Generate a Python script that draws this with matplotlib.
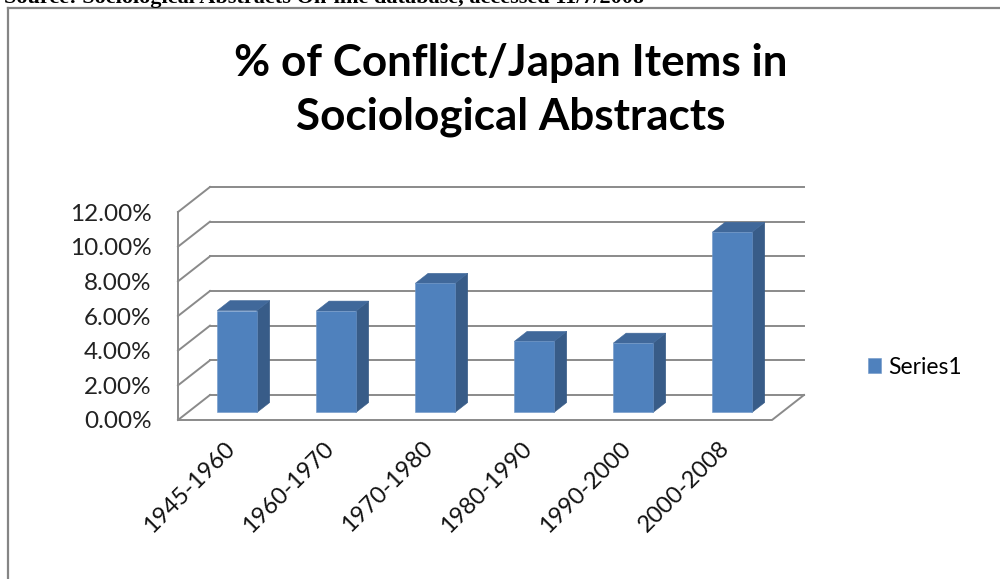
import numpy as np
import matplotlib
matplotlib.use("Agg")
import matplotlib.pyplot as plt
from matplotlib.patches import Polygon
from matplotlib.lines import Line2D
import matplotlib.transforms as mtransforms

# ---- data ----
categories = ["1945-1960", "1960-1970", "1970-1980", "1980-1990", "1990-2000", "2000-2008"]
values = [5.88, 5.85, 7.45, 4.10, 4.00, 10.40]   # percent
yticks = [0, 2, 4, 6, 8, 10, 12]
series_name = "Series1"
title = "% of Conflict/Japan Items in\nSociological Abstracts"
source_text = "Source: Sociological Abstracts On-line database, accessed 11/7/2008"

# ---- style / projection constants ----
FONT = ["Lato", "DejaVu Sans"]
DX = 0.323      # depth offset in category units (front -> back)
DY = 1.443      # depth offset in percent units
D0, D1 = 0.30, 0.70   # bar front/back depth
W = 0.40
GRID = "#8a8a8a"
FRONT = "#4F81BD"
SIDE = "#385C88"
TOP = "#40689A"

plt.rcParams["font.family"] = FONT

fig = plt.figure(figsize=(10, 5.79), dpi=100)
ax = fig.add_axes([0.178, (579 - 420) / 579, 0.626, 233 / 579])
x = np.arange(len(categories))
ymax = max(yticks)
ax.set_xlim(-0.5, len(categories) - 0.5 + DX)
ax.set_ylim(0, ymax + DY)
for s in ax.spines.values():
    s.set_visible(False)

xl, xr = -0.5, len(categories) - 0.5
# back wall gridlines + left wall diagonals
for t in yticks:
    ax.plot([xl + DX, xr + DX], [t + DY, t + DY], color=GRID, lw=1.4, zorder=1, clip_on=False)
    ax.plot([xl, xl + DX], [t, t + DY], color=GRID, lw=1.4, zorder=1, clip_on=False)
# front vertical axis and floor
ax.plot([xl, xl], [0, ymax], color=GRID, lw=1.4, zorder=1, clip_on=False)
ax.plot([xl, xr, xr + DX], [0, 0, DY], color=GRID, lw=1.4, zorder=1, clip_on=False)

# bars: front faces
b0 = D0 * DY
bars = ax.bar(x + D0 * DX, values, width=W, bottom=b0, color=FRONT,
              edgecolor="#6f97c8", linewidth=0.4, zorder=3, label=series_name)
bd = D1 - D0
for xi, v in zip(x, values):
    fl = xi + D0 * DX - W / 2
    fr = xi + D0 * DX + W / 2
    top = v + b0
    side = Polygon([(fr, b0), (fr + bd * DX, b0 + bd * DY), (fr + bd * DX, top + bd * DY), (fr, top)],
                   closed=True, facecolor=SIDE, edgecolor=SIDE, lw=0.4, zorder=2.5)
    topf = Polygon([(fl, top), (fr, top), (fr + bd * DX, top + bd * DY), (fl + bd * DX, top + bd * DY)],
                   closed=True, facecolor=TOP, edgecolor=TOP, lw=0.4, zorder=2.6)
    ax.add_patch(side)
    ax.add_patch(topf)

# y ticks
ax.set_yticks(yticks)
ax.set_yticklabels([f"{t:.2f}%" for t in yticks])
ax.tick_params(axis="y", length=0, pad=19, labelsize=17.5, labelcolor="#222222")
# x ticks
ax.set_xticks(x)
ax.set_xticklabels(categories)
ax.tick_params(axis="x", length=0, pad=18, labelsize=17, labelcolor="#111111")
offset = mtransforms.ScaledTranslation(4 / 100, 0, fig.dpi_scale_trans)
for lab in ax.get_xticklabels():
    lab.set_rotation(45)
    lab.set_ha("right")
    lab.set_va("center")
    lab.set_rotation_mode("anchor")
    lab.set_transform(lab.get_transform() + offset)

# title
fig.text(0.511, 1 - 90 / 579, title, ha="center", va="center", fontsize=31.7,
         fontweight="bold", linespacing=1.38, color="#000000")

# legend
fig.legend(handles=[bars], labels=[series_name], loc="center left",
           bbox_to_anchor=(0.847, 1 - 367 / 579), frameon=False, fontsize=16.5,
           handlelength=0.6, handleheight=0.6, handletextpad=0.3)

# chart border (clipped by figure edge)
fig.add_artist(Line2D([0.008, 0.008], [0, 1 - 8 / 579], color="#858585", lw=1.6,
                      transform=fig.transFigure))
fig.add_artist(Line2D([0.008, 1.0], [1 - 8 / 579, 1 - 8 / 579], color="#858585", lw=1.6,
                      transform=fig.transFigure))
# cut-off source text at the very top (the reference shows only its lower edge)
fig.text(0.004, 1 - 2.5 / 579, source_text, ha="left", va="baseline", fontsize=16,
         fontweight="bold", family=["Liberation Serif", "DejaVu Serif"], color="#000000")

fig.savefig("out.png", dpi=100)
